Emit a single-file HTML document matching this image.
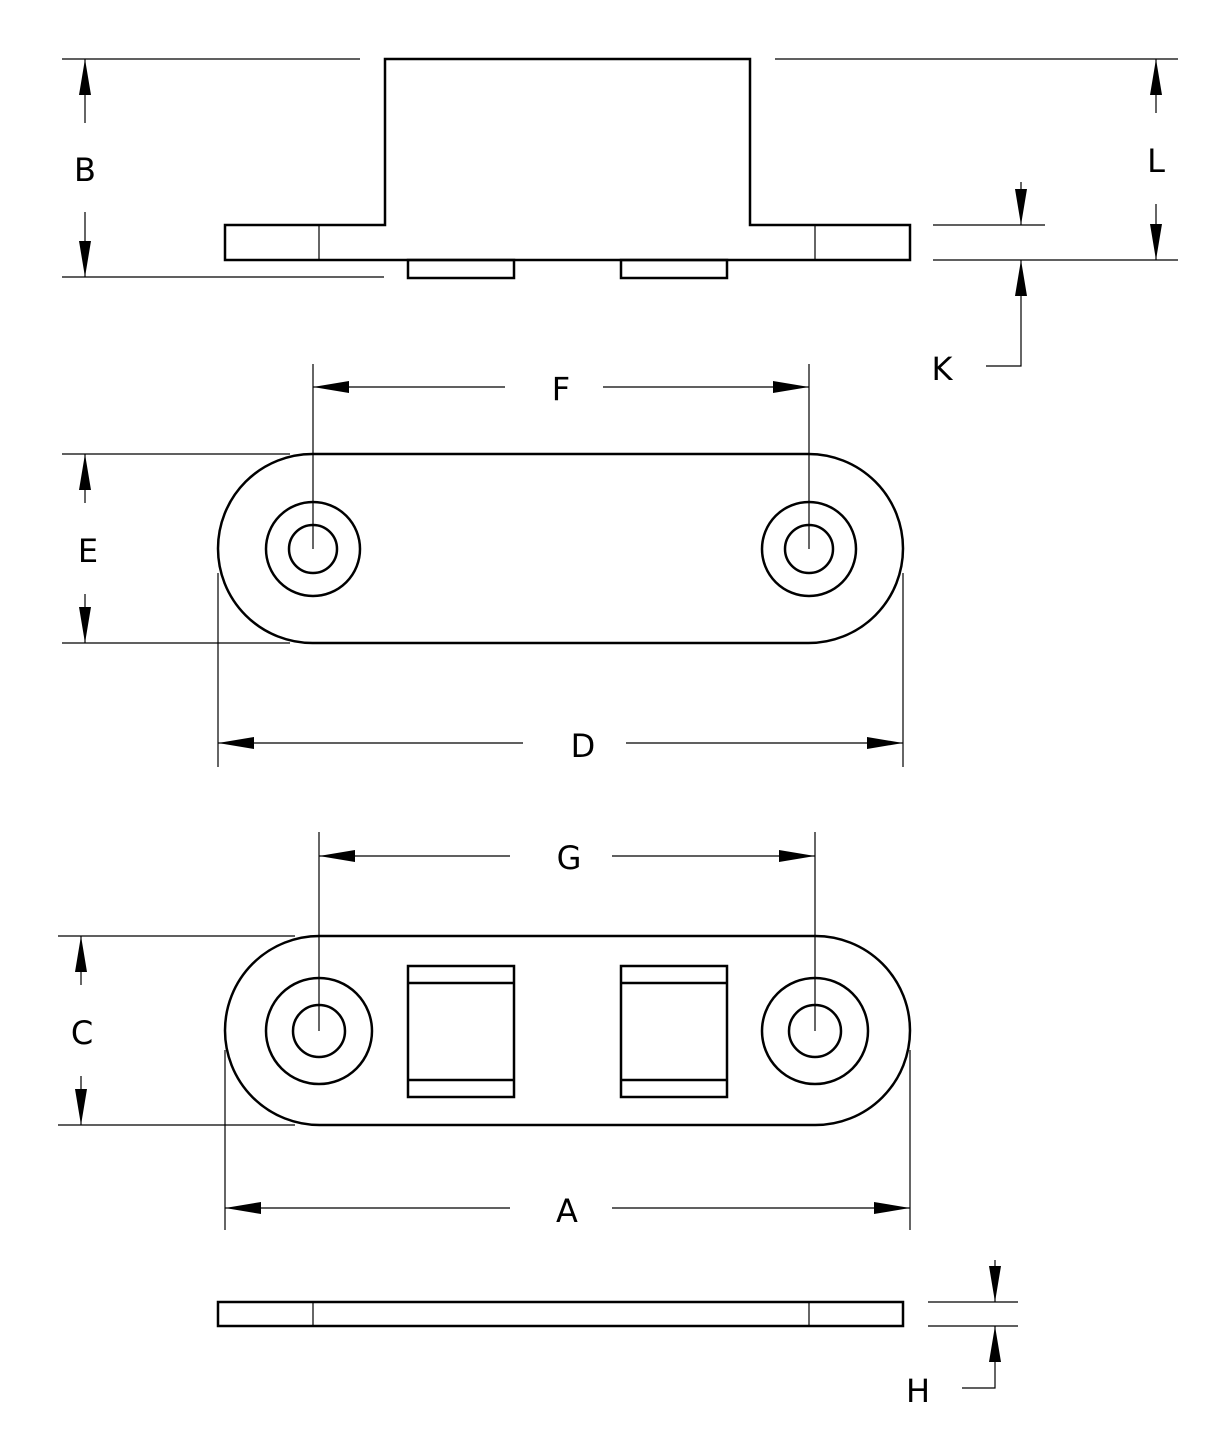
<!DOCTYPE html>
<html><head><style>html,body{margin:0;padding:0;background:#fff}svg{display:block}</style></head>
<body>
<svg width="1216" height="1453" viewBox="0 0 1216 1453" xmlns="http://www.w3.org/2000/svg">
<defs>
<marker id="a" viewBox="0 0 36 12" refX="36" refY="6" markerWidth="36" markerHeight="12" markerUnits="userSpaceOnUse" orient="auto"><path d="M0,0 L36,6 L0,12 Z" fill="#000"/></marker>
</defs>
<g fill="none" stroke="#000" stroke-width="2.5">
<path d="M225,225 H385 V59 H750 V225 H910 V260 H225 Z"/>
<rect x="408" y="260" width="106" height="18"/>
<rect x="621" y="260" width="106" height="18"/>
<rect x="218" y="454" width="685" height="189" rx="94.5"/>
<circle cx="313" cy="549" r="47"/><circle cx="313" cy="549" r="24"/>
<circle cx="809" cy="549" r="47"/><circle cx="809" cy="549" r="24"/>
<rect x="225" y="936" width="685" height="189" rx="94.5"/>
<circle cx="319" cy="1031" r="53"/><circle cx="319" cy="1031" r="26"/>
<circle cx="815" cy="1031" r="53"/><circle cx="815" cy="1031" r="26"/>
<rect x="408" y="966" width="106" height="131"/>
<path d="M408,983 H514 M408,1080 H514"/>
<rect x="621" y="966" width="106" height="131"/>
<path d="M621,983 H727 M621,1080 H727"/>
<rect x="218" y="1302" width="685" height="24"/>
</g>
<g fill="none" stroke="#000" stroke-width="1.2">
<path d="M319,225 V260 M815,225 V260 M313,1302 V1326 M809,1302 V1326"/>
<!-- B -->
<path d="M62,59 H360 M62,277 H384"/>
<path d="M85,123 V59" marker-end="url(#a)"/><path d="M85,212 V277" marker-end="url(#a)"/>
<!-- L -->
<path d="M775,59 H1178 M933,260 H1178"/>
<path d="M1156,113 V59" marker-end="url(#a)"/><path d="M1156,204 V260" marker-end="url(#a)"/>
<!-- K -->
<path d="M933,225 H1045"/>
<path d="M1021,182 V225" marker-end="url(#a)"/><path d="M986,366 H1021 V260" marker-end="url(#a)"/>
<!-- F -->
<path d="M313,364 V549 M809,364 V549"/>
<path d="M505,387 H313" marker-end="url(#a)"/><path d="M603,387 H809" marker-end="url(#a)"/>
<!-- E -->
<path d="M62,454 H290 M62,643 H290"/>
<path d="M85,503 V454" marker-end="url(#a)"/><path d="M85,594 V643" marker-end="url(#a)"/>
<!-- D -->
<path d="M218,573 V767 M903,573 V767"/>
<path d="M523,743 H218" marker-end="url(#a)"/><path d="M626,743 H903" marker-end="url(#a)"/>
<!-- G -->
<path d="M319,832 V1031 M815,832 V1031"/>
<path d="M510,856 H319" marker-end="url(#a)"/><path d="M612,856 H815" marker-end="url(#a)"/>
<!-- C -->
<path d="M58,936 H295 M58,1125 H295"/>
<path d="M81,985 V936" marker-end="url(#a)"/><path d="M81,1076 V1125" marker-end="url(#a)"/>
<!-- A -->
<path d="M225,1050 V1230 M910,1050 V1230"/>
<path d="M510,1208 H225" marker-end="url(#a)"/><path d="M612,1208 H910" marker-end="url(#a)"/>
<!-- H -->
<path d="M928,1302 H1018 M928,1326 H1018"/>
<path d="M995,1260 V1302" marker-end="url(#a)"/><path d="M962,1388 H995 V1326" marker-end="url(#a)"/>
</g>
<g font-family="DejaVu Sans, Liberation Sans, sans-serif" font-size="32" text-anchor="middle" fill="#000">
<text x="85" y="181">B</text>
<text x="1156" y="172">L</text>
<text x="942" y="380">K</text>
<text x="561" y="400">F</text>
<text x="88" y="562">E</text>
<text x="583" y="757">D</text>
<text x="569" y="869">G</text>
<text x="82" y="1044">C</text>
<text x="567" y="1222">A</text>
<text x="918" y="1402">H</text>
</g>
</svg>
</body></html>
